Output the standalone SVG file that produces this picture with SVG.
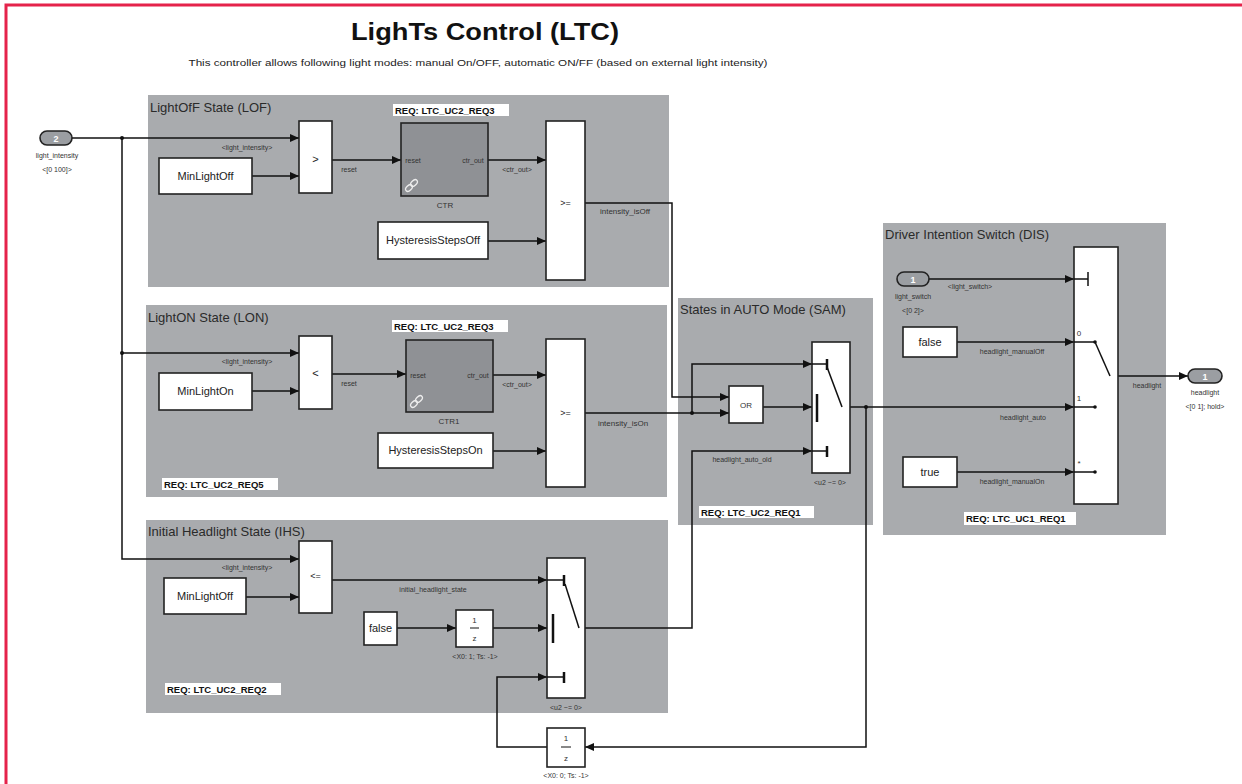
<svg xmlns="http://www.w3.org/2000/svg" width="1242" height="784" viewBox="0 0 1242 784">
<defs>
<marker id="arr" markerWidth="9" markerHeight="8" refX="9" refY="4" orient="auto" markerUnits="userSpaceOnUse">
<path d="M0,0 L9,4 L0,8 z" fill="#111"/>
</marker>
<style>
.sub{fill:#a9abae;}
.stitle{font-family:"Liberation Sans",Arial,sans-serif;font-size:13px;fill:#2a2a2a;}
.blk{fill:#fff;stroke:#222;stroke-width:1.6;}
.ctr{fill:#8f9195;stroke:#222;stroke-width:1.6;}
.bt{font-family:"Liberation Sans",Arial,sans-serif;font-size:11px;fill:#222;text-anchor:middle;}
.sm{font-family:"Liberation Sans",Arial,sans-serif;font-size:7px;fill:#333;text-anchor:middle;}
.lb{font-family:"Liberation Sans",Arial,sans-serif;font-size:8px;fill:#333;text-anchor:middle;}
.op{font-family:"Liberation Sans",Arial,sans-serif;font-size:9px;fill:#222;text-anchor:middle;}
.req{fill:#fff;}
.reqt{font-family:"Liberation Sans",Arial,sans-serif;font-size:9.5px;font-weight:bold;fill:#111;}
.w{fill:none;stroke:#111;stroke-width:1.5;}
.wa{fill:none;stroke:#111;stroke-width:1.5;marker-end:url(#arr);}
.bar{stroke:#111;stroke-width:2.5;}
.port{fill:#9b9ea2;stroke:#222;stroke-width:1.6;}
.pt{font-family:"Liberation Sans",Arial,sans-serif;font-size:9px;font-weight:bold;fill:#fff;text-anchor:middle;}
.dot{fill:#111;}
</style>
</defs>
<rect x="0" y="0" width="1242" height="784" fill="#fff"/>
<rect x="6" y="5" width="1300" height="820" fill="none" stroke="#e5234b" stroke-width="3"/>
<g id="title">
<text x="485" y="40" font-family="Liberation Sans, Arial, sans-serif" font-size="23" font-weight="bold" fill="#111" text-anchor="middle" textLength="268" lengthAdjust="spacingAndGlyphs">LighTs Control (LTC)</text>
<text x="478" y="66" font-family="Liberation Sans, Arial, sans-serif" font-size="9" fill="#222" text-anchor="middle" textLength="579" lengthAdjust="spacingAndGlyphs">This controller allows following light modes: manual On/OFF, automatic ON/FF (based on external light intensity)</text>
</g>

<g id="LOF">
<rect class="sub" x="148" y="95" width="521" height="192"/>
<text class="stitle" x="150" y="112">LightOfF State (LOF)</text>
<rect class="req" x="393" y="104" width="116" height="12"/>
<text class="reqt" x="395" y="114">REQ: LTC_UC2_REQ3</text>
</g>
<g id="LON">
<rect class="sub" x="146" y="305" width="521" height="192"/>
<text class="stitle" x="148" y="322">LightON State (LON)</text>
<rect class="req" x="392" y="320" width="116" height="12"/>
<text class="reqt" x="394" y="330">REQ: LTC_UC2_REQ3</text>
<rect class="req" x="162" y="478" width="116" height="12"/>
<text class="reqt" x="164" y="488">REQ: LTC_UC2_REQ5</text>
</g>
<g id="IHS">
<rect class="sub" x="146" y="520" width="522" height="193"/>
<text class="stitle" x="148" y="536">Initial Headlight State (IHS)</text>
<rect class="req" x="165" y="683" width="116" height="12"/>
<text class="reqt" x="167" y="693">REQ: LTC_UC2_REQ2</text>
</g>
<g id="SAM">
<rect class="sub" x="678" y="298" width="195" height="227"/>
<text class="stitle" x="680" y="314">States in AUTO Mode (SAM)</text>
<rect class="req" x="699" y="506" width="115" height="12"/>
<text class="reqt" x="701" y="516">REQ: LTC_UC2_REQ1</text>
</g>
<g id="DIS">
<rect class="sub" x="883" y="223" width="283" height="312"/>
<text class="stitle" x="885" y="239">Driver Intention Switch (DIS)</text>
<rect class="req" x="964" y="512" width="112" height="13"/>
<text class="reqt" x="966" y="522">REQ: LTC_UC1_REQ1</text>
</g>

<g id="connectors">
<path class="wa" d="M72,138 H299"/>
<path class="wa" d="M122,138 V559 H299"/>
<path class="wa" d="M122,353 H299"/>
<path class="wa" d="M252,176 H299"/>
<path class="wa" d="M252,391 H299"/>
<path class="wa" d="M246,597 H299"/>
<path class="wa" d="M332,160 H401"/>
<path class="wa" d="M332,374 H406"/>
<path class="wa" d="M488,160 H546"/>
<path class="wa" d="M493,375 H546"/>
<path class="wa" d="M488,241 H546"/>
<path class="wa" d="M493,451 H546"/>
<path class="wa" d="M585,203 H672 V397 H729"/>
<path class="wa" d="M585,413 H729"/>
<path class="wa" d="M692,413 V364 H812"/>
<path class="wa" d="M763,407 H812"/>
<path class="wa" d="M579,628 H692 V451 H812"/>
<path class="wa" d="M332,580 H547"/>
<path class="wa" d="M397,628 H456"/>
<path class="wa" d="M493,628 H547"/>
<path class="wa" d="M842,407 H1074"/>
<path class="wa" d="M866,407 V747 H585"/>
<path class="wa" d="M547,747 H497 V677 H547"/>
<path class="wa" d="M929,279 H1074"/>
<path class="wa" d="M957,342 H1074"/>
<path class="wa" d="M957,472 H1074"/>
<path class="wa" d="M1110,376 H1188"/>
<circle class="dot" cx="122" cy="138" r="2"/>
<circle class="dot" cx="122" cy="353" r="2"/>
<circle class="dot" cx="692" cy="413" r="2"/>
<circle class="dot" cx="866" cy="407" r="2"/>
<text class="sm" x="247" y="150">&lt;light_intensity&gt;</text>
<text class="sm" x="247" y="364">&lt;light_intensity&gt;</text>
<text class="sm" x="247" y="570">&lt;light_intensity&gt;</text>
<text class="sm" x="349" y="172">reset</text>
<text class="sm" x="349" y="386">reset</text>
<text class="sm" x="517" y="172">&lt;ctr_out&gt;</text>
<text class="sm" x="517" y="387">&lt;ctr_out&gt;</text>
<text class="lb" x="625" y="214">intensity_isOff</text>
<text class="lb" x="623" y="426">intensity_isOn</text>
<text class="sm" x="433" y="592">initial_headlight_state</text>
<text class="sm" x="742" y="462">headlight_auto_old</text>
<text class="sm" x="970" y="289">&lt;light_switch&gt;</text>
<text class="sm" x="1012" y="354">headlight_manualOff</text>
<text class="sm" x="1023" y="420">headlight_auto</text>
<text class="sm" x="1012" y="484">headlight_manualOn</text>
<text class="sm" x="1147" y="388">headlight</text>
</g>

<g id="in_light_intensity">
<rect class="port" x="40" y="131" width="32" height="14" rx="7"/>
<text class="pt" x="56" y="141.5">2</text>
<text class="sm" x="57" y="158">light_intensity</text>
<text class="sm" x="57" y="172">&lt;[0 100]&gt;</text>
</g>
<g id="gt_LOF"><rect class="blk" x="299" y="121" width="33" height="72"/><text class="bt" x="315.5" y="163">&gt;</text></g>
<g id="MinLightOff_LOF"><rect class="blk" x="159" y="158" width="93" height="36"/><text class="bt" x="205.5" y="180">MinLightOff</text></g>
<g id="CTR"><rect class="ctr" x="401" y="123" width="87" height="73"/>
<text class="sm" x="413" y="163">reset</text><text class="sm" x="473" y="163">ctr_out</text>
<g fill="none" stroke="#eee" stroke-width="1.3"><ellipse cx="409" cy="188" rx="4" ry="2.5" transform="rotate(-45 409 188)"/><ellipse cx="414" cy="183" rx="4" ry="2.5" transform="rotate(-45 414 183)"/></g>
<text class="lb" x="445" y="208">CTR</text></g>
<g id="HysteresisStepsOff"><rect class="blk" x="378" y="222" width="110" height="37"/><text class="bt" x="433" y="244" font-size="10">HysteresisStepsOff</text></g>
<g id="ge_LOF"><rect class="blk" x="546" y="121" width="39" height="159"/><text class="op" x="565.5" y="206">&gt;=</text></g>

<g id="lt_LON"><rect class="blk" x="299" y="336" width="33" height="73"/><text class="bt" x="315.5" y="377">&lt;</text></g>
<g id="MinLightOn"><rect class="blk" x="159" y="373" width="93" height="37"/><text class="bt" x="205.5" y="395">MinLightOn</text></g>
<g id="CTR1"><rect class="ctr" x="406" y="340" width="87" height="72"/>
<text class="sm" x="418" y="378">reset</text><text class="sm" x="478" y="378">ctr_out</text>
<g fill="none" stroke="#eee" stroke-width="1.3"><ellipse cx="414" cy="404" rx="4" ry="2.5" transform="rotate(-45 414 404)"/><ellipse cx="419" cy="399" rx="4" ry="2.5" transform="rotate(-45 419 399)"/></g>
<text class="lb" x="449" y="424">CTR1</text></g>
<g id="HysteresisStepsOn"><rect class="blk" x="378" y="433" width="115" height="35"/><text class="bt" x="435.5" y="454" font-size="10">HysteresisStepsOn</text></g>
<g id="ge_LON"><rect class="blk" x="546" y="339" width="39" height="148"/><text class="op" x="565.5" y="416">&gt;=</text></g>

<g id="le_IHS"><rect class="blk" x="299" y="541" width="33" height="72"/><text class="op" x="315.5" y="579">&lt;=</text></g>
<g id="MinLightOff_IHS"><rect class="blk" x="164" y="578" width="82" height="36"/><text class="bt" x="205" y="600">MinLightOff</text></g>
<g id="false_IHS"><rect class="blk" x="364" y="612" width="33" height="33"/><text class="bt" x="380.5" y="632" font-size="10">false</text></g>
<g id="delay_IHS"><rect class="blk" x="456" y="610" width="37" height="37"/>
<text class="lb" x="474.5" y="623">1</text><line x1="470" y1="628" x2="479" y2="628" stroke="#111" stroke-width="1"/><text class="lb" x="474.5" y="641">z</text>
<text class="sm" x="475" y="659">&lt;X0: 1; Ts: -1&gt;</text></g>
<g id="switch_IHS"><rect class="blk" x="547" y="558" width="38" height="140"/>
<line class="w" x1="547" y1="580" x2="564" y2="580"/><line class="bar" x1="564" y1="575" x2="564" y2="586"/>
<line class="w" x1="547" y1="677" x2="564" y2="677"/><line class="bar" x1="564" y1="672" x2="564" y2="683"/>
<line class="bar" x1="553" y1="614" x2="553" y2="643"/>
<path class="w" d="M565,584 L579,628"/>
<text class="sm" x="566" y="710">&lt;u2 ~= 0&gt;</text></g>
<g id="delay_fb"><rect class="blk" x="547" y="728" width="38" height="39"/>
<text class="lb" x="566" y="741">1</text><line x1="561" y1="747" x2="571" y2="747" stroke="#111" stroke-width="1"/><text class="lb" x="566" y="761">z</text>
<text class="sm" x="566" y="778">&lt;X0: 0; Ts: -1&gt;</text></g>

<g id="OR"><rect class="blk" x="729" y="386" width="34" height="37"/><text class="lb" x="746" y="408">OR</text></g>
<g id="switch_SAM"><rect class="blk" x="812" y="342" width="38" height="131"/>
<line class="w" x1="812" y1="364" x2="827" y2="364"/><line class="bar" x1="827" y1="359" x2="827" y2="370"/>
<line class="w" x1="812" y1="451" x2="827" y2="451"/><line class="bar" x1="827" y1="446" x2="827" y2="457"/>
<line class="bar" x1="817" y1="394" x2="817" y2="422"/>
<path class="w" d="M827,367 L842,407"/>
<text class="sm" x="830" y="485">&lt;u2 ~= 0&gt;</text></g>

<g id="in_light_switch">
<rect class="port" x="897" y="272" width="32" height="14" rx="7"/>
<text class="pt" x="913" y="282.5">1</text>
<text class="sm" x="913" y="299">light_switch</text>
<text class="sm" x="913" y="313">&lt;[0 2]&gt;</text>
</g>
<g id="false_DIS"><rect class="blk" x="903" y="327" width="54" height="30"/><text class="bt" x="930" y="346" font-size="10">false</text></g>
<g id="true_DIS"><rect class="blk" x="903" y="457" width="54" height="30"/><text class="bt" x="930" y="476" font-size="10">true</text></g>
<g id="multiport_DIS"><rect class="blk" x="1074" y="247" width="44" height="257"/>
<line class="w" x1="1074" y1="279" x2="1088" y2="279"/><line class="w" x1="1088" y1="272" x2="1088" y2="286"/>
<line class="w" x1="1074" y1="342" x2="1095" y2="342"/><circle class="dot" cx="1095" cy="342" r="1.8"/>
<line class="w" x1="1074" y1="407" x2="1095" y2="407"/><circle class="dot" cx="1095" cy="407" r="1.8"/>
<line class="w" x1="1074" y1="472" x2="1095" y2="472"/><circle class="dot" cx="1095" cy="472" r="1.8"/>
<path class="w" d="M1095,342 L1110,376"/>
<text class="lb" x="1079" y="336">0</text>
<text class="lb" x="1079" y="401">1</text>
<text class="lb" x="1079" y="466">*</text></g>
<g id="out_headlight">
<rect class="port" x="1188" y="369" width="34" height="14" rx="7"/>
<text class="pt" x="1205" y="379.5">1</text>
<text class="sm" x="1205" y="395">headlight</text>
<text class="sm" x="1205" y="409">&lt;[0 1]; hold&gt;</text>
</g>
</svg>
